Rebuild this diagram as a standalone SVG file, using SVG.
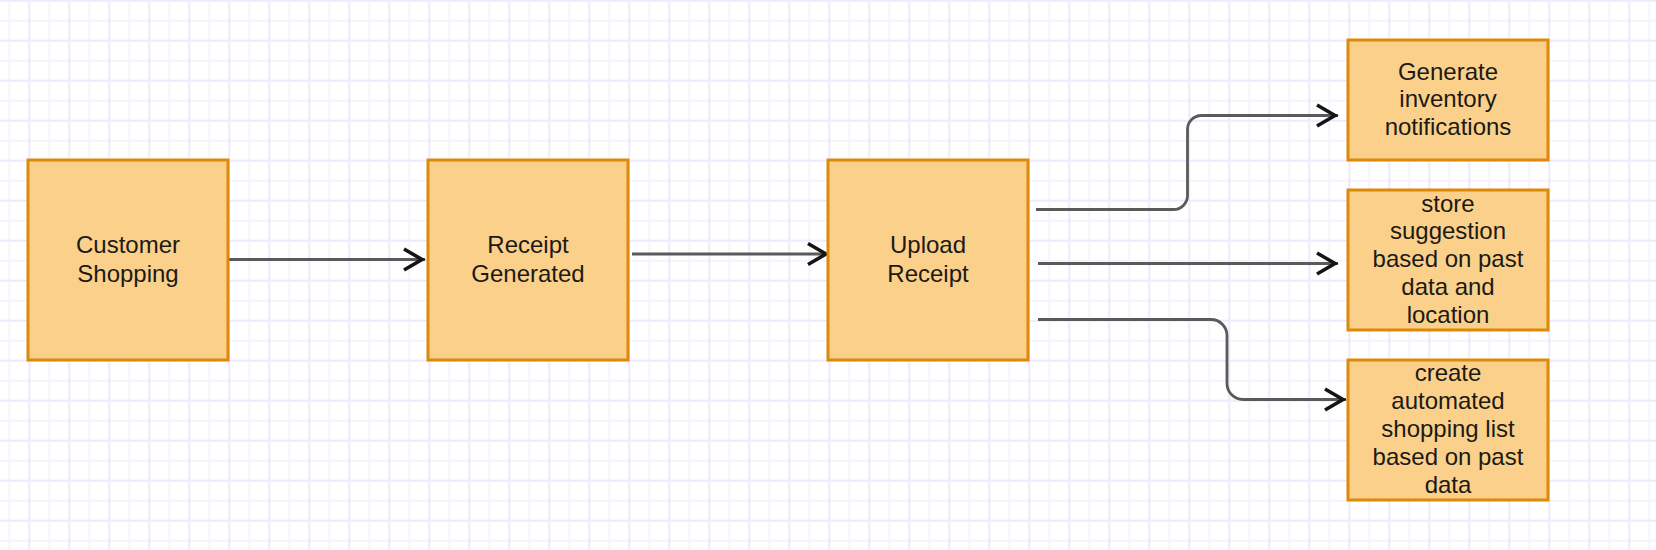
<svg xmlns="http://www.w3.org/2000/svg" width="1656" height="550" viewBox="0 0 1656 550">
  <style>
    .box { fill: #fad08b; stroke: #dd8a08; stroke-width: 3; }
    .lbl { font-family: "Liberation Sans", Arial, sans-serif; font-size: 24px; fill: #1c1a14; text-anchor: middle; }
    .edge { fill: none; stroke: #5a5a5a; stroke-width: 2.8; marker-end: url(#arrow); }
  </style>
  <defs>
    <pattern id="grid" patternUnits="userSpaceOnUse" x="-0.7" y="-9.3" width="40" height="40">
      <line x1="10" y1="0" x2="10" y2="40" stroke="#f5f4fe" stroke-width="2"/>
      <line x1="0" y1="30" x2="40" y2="30" stroke="#f5f4fe" stroke-width="2"/>
      <line x1="30" y1="0" x2="30" y2="40" stroke="#eceafc" stroke-width="2"/>
      <line x1="0" y1="10" x2="40" y2="10" stroke="#eceafc" stroke-width="2"/>
    </pattern>
    <marker id="arrow" markerUnits="userSpaceOnUse" viewBox="0 0 26 24" markerWidth="26" markerHeight="24" refX="23" refY="12" orient="auto" overflow="visible">
      <path d="M2,1.5 L20,12 L2,22.5" fill="none" stroke="#151515" stroke-width="3.6" stroke-linejoin="miter"/>
    </marker>
  </defs>
  <rect x="0" y="0" width="1656" height="550" fill="#ffffff"/>
  <rect x="0" y="0" width="1656" height="550" fill="url(#grid)"/>

  <g id="connectors">
    <path class="edge" d="M227,259.5 L425,259.5"/>
    <path class="edge" d="M632,254 L829,254"/>
    <path class="edge" d="M1036,209.5 L1173.5,209.5 A14,14 0 0 0 1187.5,195.5 L1187.5,129.5 A14,14 0 0 1 1201.5,115.5 L1338,115.5"/>
    <path class="edge" d="M1038,263.5 L1338,263.5"/>
    <path class="edge" d="M1038,319.5 L1211,319.5 A16,16 0 0 1 1227,335.5 L1227,383.5 A16,16 0 0 0 1243,399.5 L1346,399.5"/>
  </g>

  <g id="customer-shopping">
    <rect class="box" x="28" y="160" width="200" height="200"/>
    <text class="lbl" x="128" y="253">Customer</text>
    <text class="lbl" x="128" y="281.5">Shopping</text>
  </g>

  <g id="receipt-generated">
    <rect class="box" x="428" y="160" width="200" height="200"/>
    <text class="lbl" x="528" y="253">Receipt</text>
    <text class="lbl" x="528" y="281.5">Generated</text>
  </g>

  <g id="upload-receipt">
    <rect class="box" x="828" y="160" width="200" height="200"/>
    <text class="lbl" x="928" y="253">Upload</text>
    <text class="lbl" x="928" y="281.5">Receipt</text>
  </g>

  <g id="inventory-notifications">
    <rect class="box" x="1348" y="40" width="200" height="120"/>
    <text class="lbl" x="1448" y="79.5">Generate</text>
    <text class="lbl" x="1448" y="107.3">inventory</text>
    <text class="lbl" x="1448" y="135">notifications</text>
  </g>

  <g id="store-suggestion">
    <rect class="box" x="1348" y="190" width="200" height="140"/>
    <text class="lbl" x="1448" y="211.7">store</text>
    <text class="lbl" x="1448" y="239.4">suggestion</text>
    <text class="lbl" x="1448" y="267.2">based on past</text>
    <text class="lbl" x="1448" y="294.9">data and</text>
    <text class="lbl" x="1448" y="322.7">location</text>
  </g>

  <g id="shopping-list">
    <rect class="box" x="1348" y="360" width="200" height="140"/>
    <text class="lbl" x="1448" y="381">create</text>
    <text class="lbl" x="1448" y="409">automated</text>
    <text class="lbl" x="1448" y="437">shopping list</text>
    <text class="lbl" x="1448" y="464.9">based on past</text>
    <text class="lbl" x="1448" y="492.7">data</text>
  </g>
</svg>
